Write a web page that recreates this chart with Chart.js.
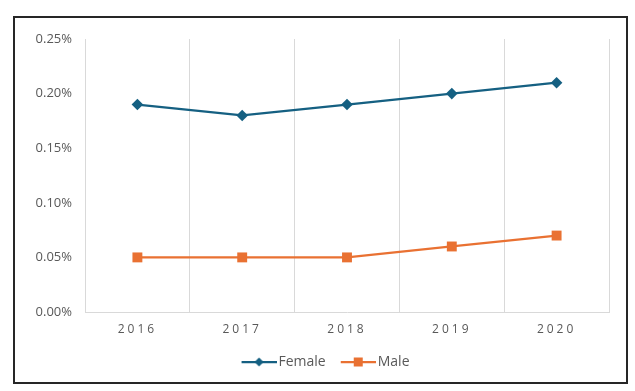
<!DOCTYPE html>
<html>
<head>
<meta charset="utf-8">
<script src="https://cdn.jsdelivr.net/npm/chart.js@4/dist/chart.umd.min.js"></script>
<style>
  html, body { margin: 0; padding: 0; background: #fff; }
  #frame { position: absolute; left: 13px; top: 16px; width: 611px; height: 364px; border: 2px solid #262626; background: #fff; }
  canvas { display: block; }
</style>
</head>
<body>
<div id="frame"><canvas id="c" width="611" height="364"></canvas></div>
<script>
// data (values in %)
const YEARS  = ['2016', '2017', '2018', '2019', '2020'];
const FEMALE = [0.19, 0.18, 0.19, 0.20, 0.21];
const MALE   = [0.05, 0.05, 0.05, 0.06, 0.07];
const Y_MIN = 0, Y_MAX = 0.25, Y_STEP = 0.05;

const BLUE   = '#156082';
const ORANGE = '#E97132';
const GRID   = '#d9d9d9';
const TEXT   = '#595959';
const FONT   = "'Open Sans', sans-serif";

// line+marker swatch for the legend, like Excel draws it
// (transparent margin on the left so the line sits close to its text)
function swatch(color, kind) {
  const cv = document.createElement('canvas');
  cv.width = 45; cv.height = 12;
  const g = cv.getContext('2d');
  g.strokeStyle = color; g.fillStyle = color; g.lineWidth = 2.25;
  g.beginPath(); g.moveTo(10, 6); g.lineTo(45, 6); g.stroke();
  g.beginPath();
  const cx = 27.5;
  if (kind === 'diamond') {
    g.moveTo(cx, 1.5); g.lineTo(cx + 4.5, 6); g.lineTo(cx, 10.5); g.lineTo(cx - 4.5, 6); g.closePath();
  } else {
    g.rect(cx - 4.5, 1.5, 9, 9);
  }
  g.fill();
  return cv;
}
const SWATCHES = [swatch(BLUE, 'diamond'), swatch(ORANGE, 'square')];

// spaced-out year labels on the x axis, legend nudged to sit under the plot
const tweaks = {
  id: 'tweaks',
  afterLayout(chart) {
    if (chart.legend) chart.legend.left = 22;
    const xs = chart.scales.x;
    if (!xs || xs._spaced) return;
    const orig = xs.drawLabels;
    xs.drawLabels = function (area) {
      const ctx = this.ctx;
      ctx.letterSpacing = '3px';
      orig.call(this, area);
      ctx.letterSpacing = '0px';
    };
    xs._spaced = true;
  }
};

const chart = new Chart(document.getElementById('c'), {
  type: 'line',
  data: {
    labels: YEARS,
    datasets: [
      {
        label: 'Female',
        data: FEMALE,
        borderColor: BLUE,
        backgroundColor: BLUE,
        borderWidth: 2.25,
        pointStyle: 'rectRot',
        pointRadius: 5.8,
        pointBorderWidth: 0,
        tension: 0
      },
      {
        label: 'Male',
        data: MALE,
        borderColor: ORANGE,
        backgroundColor: ORANGE,
        borderWidth: 2.25,
        pointStyle: 'rect',
        pointRadius: 7,
        pointBorderWidth: 0,
        tension: 0
      }
    ]
  },
  options: {
    responsive: false,
    animation: false,
    layout: { padding: { left: 0, right: 17, top: 21, bottom: 3 } },
    plugins: {
      tooltip: { enabled: false },
      legend: {
        position: 'bottom',
        labels: {
          usePointStyle: true,
          pointStyleWidth: 35,
          padding: 10,
          color: TEXT,
          font: { family: FONT, size: 14 },
          generateLabels: c => c.data.datasets.map((ds, i) => ({
            text: ds.label,
            pointStyle: SWATCHES[i],
            fillStyle: ds.borderColor,
            strokeStyle: 'transparent',
            lineWidth: 0,
            fontColor: TEXT,
            hidden: false,
            datasetIndex: i
          }))
        }
      }
    },
    scales: {
      x: {
        offset: true,
        grid: { display: true, offset: true, color: GRID, lineWidth: 1, drawTicks: false },
        border: { display: true, color: GRID, width: 1 },
        ticks: { color: TEXT, padding: 10, font: { family: FONT, size: 12 } },
        afterFit: s => { s.height = 33; }
      },
      y: {
        min: Y_MIN,
        max: Y_MAX,
        grid: { display: false, drawTicks: false },
        border: { display: false },
        ticks: {
          stepSize: Y_STEP,
          padding: 13,
          color: TEXT,
          font: { family: FONT, size: 13 },
          callback: v => v.toFixed(2) + '%'
        },
        afterFit: s => { s.width = 70; }
      }
    }
  },
  plugins: [tweaks]
});
</script>
</body>
</html>
